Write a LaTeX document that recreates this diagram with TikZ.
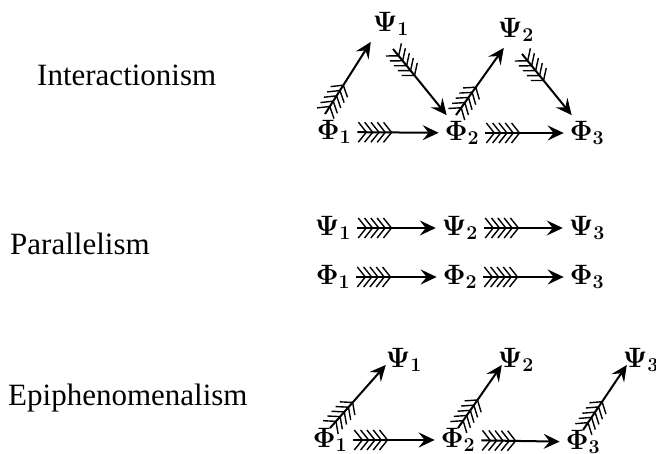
\RequirePackage{fix-cm}
\documentclass[tikz,border=0pt]{standalone}
\usepackage[no-math]{fontspec}
\setmainfont{Liberation Serif}
\usetikzlibrary{arrows.meta,decorations.markings}
\tikzset{
      statenode/.style={
        inner sep=6pt,
        font=\fontsize{28}{32}\selectfont
      },
      doctrine/.style={
        anchor=west,
        inner sep=0pt,
        font=\fontsize{31}{36}\selectfont
      },
      causal/.style={
        line width=2pt,
        -{Stealth[length=16pt,width=15pt,inset=6pt]},
        postaction={decorate},
        decoration={markings,
          mark=between positions 9pt and 35pt step 6.3pt with {
            \draw[line width=1.4pt,-] (-8pt,10pt) -- (0pt,0pt) -- (-8pt,-10pt);
          }
        }
      }
    }
\begin{document}
\begin{tikzpicture}[x=1pt,y=1pt]
    \useasboundingbox (0,0) rectangle (656,454);
    % Interactionism
    \node[doctrine] (lblA) at (37,379) {Interactionism};
    \node[statenode] (psiA1) at (391,430) {$\mathbf{\Psi_1}$};
    \node[statenode] (psiA2) at (516,424) {$\mathbf{\Psi_2}$};
    \node[statenode] (phiA1) at (334,322) {$\mathbf{\Phi_1}$};
    \node[statenode] (phiA2) at (462,321) {$\mathbf{\Phi_2}$};
    \node[statenode] (phiA3) at (587,321) {$\mathbf{\Phi_3}$};
    \draw[causal] ([xshift=-9pt]phiA1.north) -- ([xshift=4pt]psiA1.south west);
    \draw[causal] ([shift={(2pt,-7pt)}]psiA1.south) -- ([xshift=8pt]phiA2.north west);
    \draw[causal] ([xshift=-6pt]phiA2.north) -- ([xshift=12pt]psiA2.south west);
    \draw[causal] ([shift={(6pt,-6pt)}]psiA2.south) -- ([xshift=8pt]phiA3.north west);
    \draw[causal] (phiA1) -- (phiA2);
    \draw[causal] (phiA2) -- (phiA3);
    % Parallelism
    \node[doctrine] (lblB) at (10,210) {Parallelism};
    \node[statenode] (psiB1) at (333,226) {$\mathbf{\Psi_1}$};
    \node[statenode] (psiB2) at (460,226) {$\mathbf{\Psi_2}$};
    \node[statenode] (psiB3) at (587,226) {$\mathbf{\Psi_3}$};
    \node[statenode] (phiB1) at (333,177) {$\mathbf{\Phi_1}$};
    \node[statenode] (phiB2) at (460,177) {$\mathbf{\Phi_2}$};
    \node[statenode] (phiB3) at (587,177) {$\mathbf{\Phi_3}$};
    \draw[causal] (psiB1) -- (psiB2);
    \draw[causal] (psiB2) -- (psiB3);
    \draw[causal] (phiB1) -- (phiB2);
    \draw[causal] (phiB2) -- (phiB3);
    % Epiphenomenalism
    \node[doctrine] (lblC) at (8,56) {Epiphenomenalism};
    \node[statenode] (psiC1) at (404,94) {$\mathbf{\Psi_1}$};
    \node[statenode] (psiC2) at (516,94) {$\mathbf{\Psi_2}$};
    \node[statenode] (psiC3) at (641,94) {$\mathbf{\Psi_3}$};
    \node[statenode] (phiC1) at (330,14) {$\mathbf{\Phi_1}$};
    \node[statenode] (phiC2) at (458,14) {$\mathbf{\Phi_2}$};
    \node[statenode] (phiC3) at (583,12) {$\mathbf{\Phi_3}$};
    \draw[causal] ([yshift=-6pt]phiC1.north) -- ([shift={(6pt,-5pt)}]psiC1.west);
    \draw[causal] ([yshift=-6pt]phiC2.north) -- ([shift={(10pt,-5pt)}]psiC2.west);
    \draw[causal] ([yshift=-6pt]phiC3.north) -- ([shift={(10pt,-5pt)}]psiC3.west);
    \draw[causal] (phiC1) -- (phiC2);
    \draw[causal] (phiC2) -- (phiC3);
\end{tikzpicture}
\end{document}
